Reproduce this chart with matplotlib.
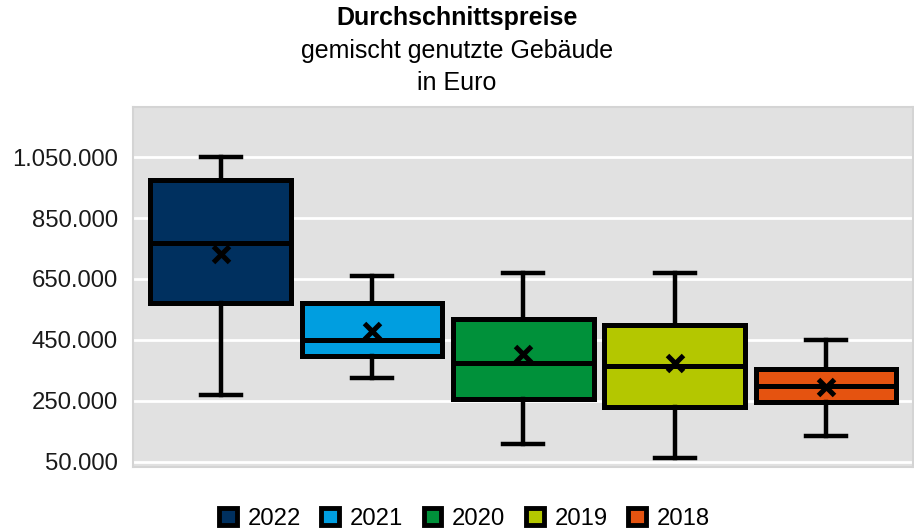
import matplotlib.pyplot as plt
import matplotlib.patches as patches
from matplotlib.ticker import FuncFormatter

plt.rcParams['font.family'] = ['Liberation Sans', 'DejaVu Sans']

# values (Euro)
years = ['2022', '2021', '2020', '2019', '2018']
whisker_low = [269000, 324000, 110000, 64500, 134500]
q1 = [570000, 397000, 258000, 229000, 247000]
medians = [769000, 450000, 373000, 365000, 299000]
q3 = [975000, 572000, 519000, 499000, 355000]
whisker_high = [1050000, 660000, 671000, 669000, 450000]
means = [732000, 480000, 404000, 373000, 296000]
colors = ['#00305F', '#009EE0', '#00913A', '#B4C700', '#E55310']
yticks = [50000, 250000, 450000, 650000, 850000, 1050000]

stats = []
for i in range(len(years)):
	stats.append({
		'label': years[i],
		'whislo': whisker_low[i],
		'q1': q1[i],
		'med': medians[i],
		'q3': q3[i],
		'whishi': whisker_high[i],
		'mean': means[i],
	})

fig = plt.figure(figsize=(9.14, 5.30), dpi=100)
ax = fig.add_axes([133/914, 1-467/530, 780/914, 360/530])
ax.set_facecolor('#E1E1E1')
for s in ax.spines.values():
	s.set_color('#D4D4D4')
	s.set_linewidth(1.5)

ax.set_yticks(yticks)
ax.yaxis.grid(True, color='white', lw=2)
ax.set_axisbelow(True)

positions = list(range(len(years)))
bp = ax.bxp(stats, positions=positions, widths=0.93, capwidths=0.265,
	patch_artist=True, showmeans=True, showfliers=False,
	boxprops=dict(lw=3.6, edgecolor='black'),
	medianprops=dict(color='black', lw=3.6),
	whiskerprops=dict(color='black', lw=3.2),
	capprops=dict(color='black', lw=3.2),
	meanprops=dict(marker='x', markeredgecolor='black', markersize=11, markeredgewidth=3.6))
for box, c in zip(bp['boxes'], colors):
	box.set_facecolor(c)

ax.set_xlim(-0.58, 4.575)
ax.set_ylim(33500, 1214000)
ax.set_xticks([])
ax.yaxis.set_major_formatter(FuncFormatter(lambda v, p: f"{v:,.0f}".replace(',', '.')))
ax.tick_params(axis='y', length=0, pad=11, labelsize=17.2, labelcolor='#1A1A1A')

fig.text(0.5, 1-18/530, 'Durchschnittspreise', ha='center', va='center',
	fontsize=18, fontweight='bold')
fig.text(0.5, 1-51/530, 'gemischt genutzte Gebäude', ha='center', va='center', fontsize=18)
fig.text(0.5, 1-83/530, 'in Euro', ha='center', va='center', fontsize=18)

handles = [patches.Patch(facecolor=c, edgecolor='black', lw=3.5) for c in colors]
fig.legend(handles, years, loc='center', bbox_to_anchor=(0.508, 1-519/530), ncol=5,
	frameon=False, fontsize=17.2, handlelength=0.75, handleheight=0.75,
	handletextpad=0.45, columnspacing=0.85, borderpad=0)

fig.savefig('out.png', dpi=100)
